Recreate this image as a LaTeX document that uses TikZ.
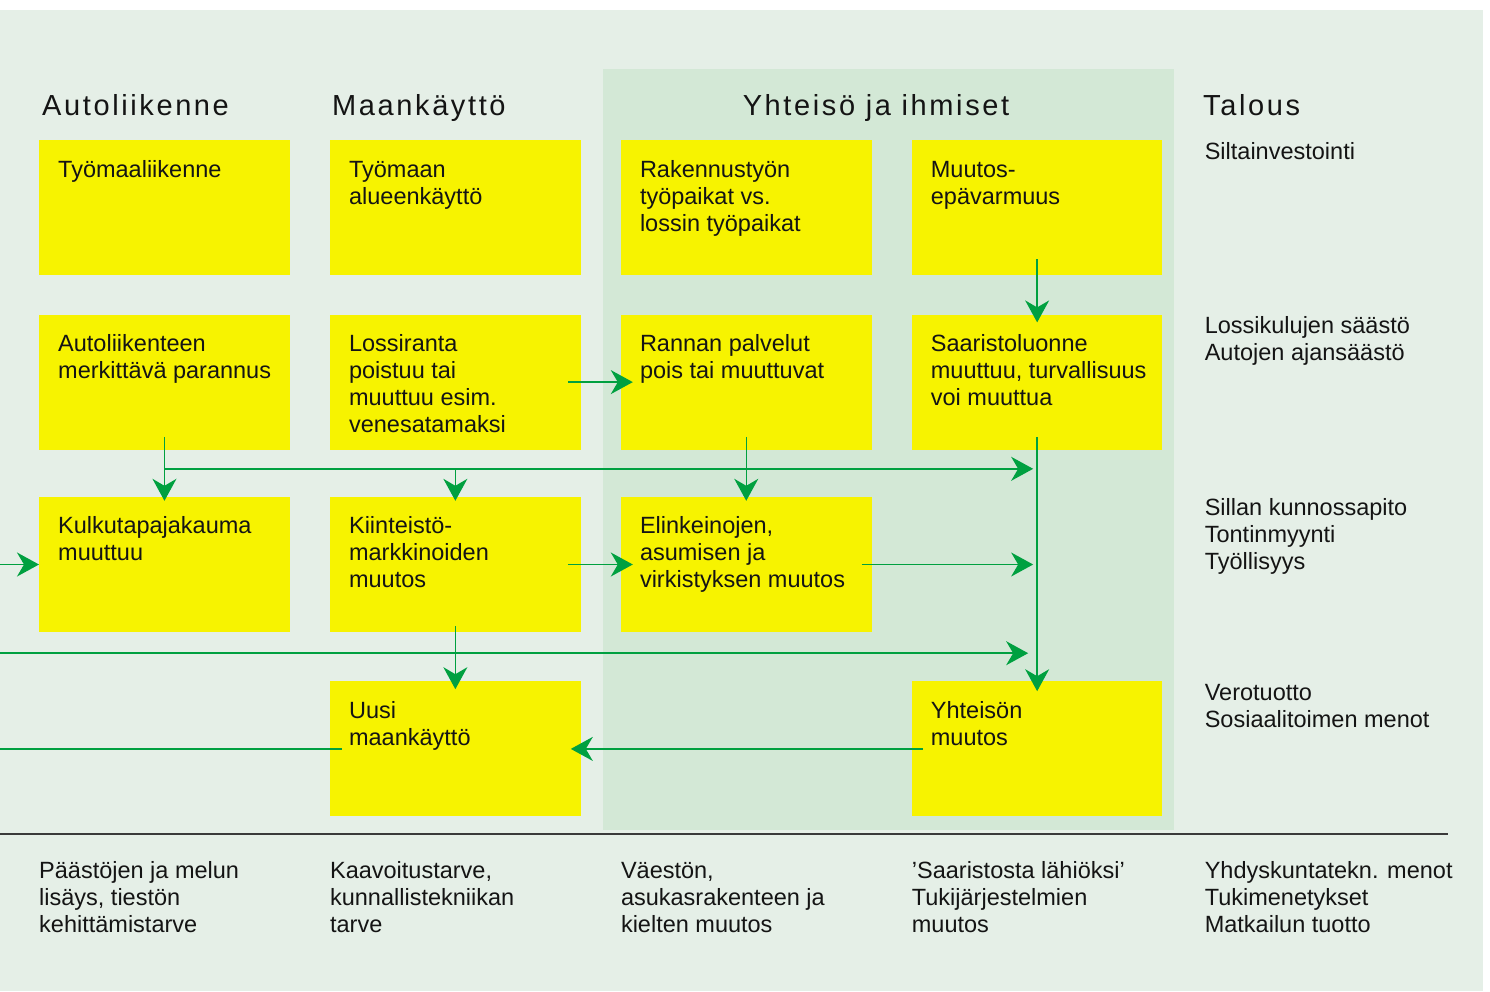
\documentclass[tikz,border=0pt]{standalone}
\usepackage{fontspec}
\setmainfont{Liberation Sans}
\newfontfamily\hdrfont[LetterSpace=9]{Liberation Sans}
\usetikzlibrary{positioning,arrows.meta,calc}
\definecolor{cBg}{HTML}{E5EFE7}
\definecolor{cBand}{HTML}{D3E8D6}
\definecolor{cBox}{HTML}{F7F300}
\definecolor{cArrow}{HTML}{00A040}
\definecolor{cRule}{HTML}{3A3A3A}
\tikzset{
  box/.style    ={fill=cBox, draw=none, minimum width=250.5pt, minimum height=135pt,
                  inner sep=0pt, anchor=north west},
  boxtxt/.style ={anchor=north west, inner sep=0pt, align=left,
                  font=\fontsize{23.5}{27}\selectfont, text=black!92},
  note/.style   ={boxtxt},
  hdr/.style    ={anchor=base west, inner sep=0pt, text=black!92,
                  font={\hdrfont\fontsize{29}{34}\selectfont}},
  flow/.style   ={-{Stealth[length=22pt,width=24pt,inset=7pt]}, line width=1.5pt, draw=cArrow},
  plain flow/.style={line width=1.5pt, draw=cArrow},
  rule/.style   ={line width=2pt, draw=cRule},
}

\begin{document}
\begin{tikzpicture}[x=1pt, y=-1pt]

  % ---- canvas ----
  \useasboundingbox (0,0) rectangle (1490,991);
  \fill[white] (0,0) rectangle (1490,991);
  \fill[cBg] (0,10) rectangle (1483,991);
  \fill[cBand] (603,69) rectangle (1174,830);

  % ---- column headings ----
  \node[hdr] (h-auto) at (42,115) {Autoliikenne};
  \node[hdr] (h-maa) at (332,115) {Maankäyttö};
  \node[hdr, anchor=base] (h-yht) at (876,115) {Yhteisö ja ihmiset};
  \node[hdr] (h-talous) at (1203,115) {Talous};

  % ---- row 1 ----
  \node[box] (tyomaaliik) at (39,140) {};
  \node[box, right=40pt of tyomaaliik] (alueenk) {};
  \node[box, right=40pt of alueenk] (tyopaikat) {};
  \node[box, right=40pt of tyopaikat] (epavarmuus) {};

  % ---- row 2 ----
  \node[box, below=39pt of tyomaaliik] (parannus) {};
  \node[box, below=39pt of alueenk] (lossiranta) {};
  \node[box, below=39pt of tyopaikat] (palvelut) {};
  \node[box, below=39pt of epavarmuus] (saaristo) {};

  % ---- row 3 ----
  \node[box, below=47pt of parannus] (kulkutapa) {};
  \node[box, below=47pt of lossiranta] (kiinteisto) {};
  \node[box, below=47pt of palvelut] (elinkeinot) {};

  % ---- row 4 ----
  \node[box, below=49pt of kiinteisto] (uusimaa) {};
  \node[box] (yhteison) at (epavarmuus.north west |- uusimaa.north west) {};

  % ---- box texts ----
  \node[boxtxt] (tyomaaliik-t) at ([shift={(19pt,-18pt)}]tyomaaliik.north west) {\strut Työmaaliikenne};
  \node[boxtxt] (alueenk-t) at ([shift={(19pt,-18pt)}]alueenk.north west) {\strut Työmaan\\alueenkäyttö};
  \node[boxtxt] (tyopaikat-t) at ([shift={(19pt,-18pt)}]tyopaikat.north west) {\strut Rakennustyön\\työpaikat vs.\\lossin työpaikat};
  \node[boxtxt] (epavarmuus-t) at ([shift={(19pt,-18pt)}]epavarmuus.north west) {\strut Muutos-\\epävarmuus};
  \node[boxtxt] (parannus-t) at ([shift={(19pt,-18pt)}]parannus.north west) {\strut Autoliikenteen\\merkittävä parannus};
  \node[boxtxt] (lossiranta-t) at ([shift={(19pt,-18pt)}]lossiranta.north west) {\strut Lossiranta\\poistuu tai\\muuttuu esim.\\venesatamaksi};
  \node[boxtxt] (palvelut-t) at ([shift={(19pt,-18pt)}]palvelut.north west) {\strut Rannan palvelut\\pois tai muuttuvat};
  \node[boxtxt] (saaristo-t) at ([shift={(19pt,-18pt)}]saaristo.north west) {\strut Saaristoluonne\\muuttuu, turvallisuus\\voi muuttua};
  \node[boxtxt] (kulkutapa-t) at ([shift={(19pt,-18pt)}]kulkutapa.north west) {\strut Kulkutapajakauma\\muuttuu};
  \node[boxtxt] (kiinteisto-t) at ([shift={(19pt,-18pt)}]kiinteisto.north west) {\strut Kiinteistö-\\markkinoiden\\muutos};
  \node[boxtxt] (elinkeinot-t) at ([shift={(19pt,-18pt)}]elinkeinot.north west) {\strut Elinkeinojen,\\asumisen ja\\virkistyksen muutos};
  \node[boxtxt] (uusimaa-t) at ([shift={(19pt,-18pt)}]uusimaa.north west) {\strut Uusi\\maankäyttö};
  \node[boxtxt] (yhteison-t) at ([shift={(19pt,-18pt)}]yhteison.north west) {\strut Yhteisön\\muutos};

  % ---- Talous column ----
  \node[note] (silta) at ([xshift=42pt]epavarmuus.north east) {\strut Siltainvestointi};
  \node[note] (lossikulut) at ([xshift=42pt]saaristo.north east) {\strut Lossikulujen säästö\\Autojen ajansäästö};
  \node[note] (kunnossapito) at ([xshift=42pt]saaristo.north east |- elinkeinot.north) {\strut Sillan kunnossapito\\Tontinmyynti\\Työllisyys};
  \node[note] (verotuotto) at ([xshift=42pt]yhteison.north east) {\strut Verotuotto\\Sosiaalitoimen menot};

  % ---- bottom rule + consequences ----
  \coordinate (rule-l) at (0,834);
  \coordinate (rule-r) at (1448,834);
  \draw[rule] (rule-l) -- (rule-r);
  \node[note] (n-auto) at (tyomaaliik.west |- 0,859) {\strut Päästöjen ja melun\\lisäys, tiestön\\kehittämistarve};
  \node[note] (n-maa) at (alueenk.west |- 0,859) {\strut Kaavoitustarve,\\kunnallistekniikan\\tarve};
  \node[note] (n-vaesto) at (tyopaikat.west |- 0,859) {\strut Väestön,\\asukasrakenteen ja\\kielten muutos};
  \node[note] (n-saaristo) at (epavarmuus.west |- 0,859) {\strut ’Saaristosta lähiöksi’\\Tukijärjestelmien\\muutos};
  \node[note] (n-talous) at (silta.west |- 0,859) {\strut Yhdyskuntatekn. menot\\Tukimenetykset\\Matkailun tuotto};

  % ---- edges ----
  \coordinate (split) at ([yshift=-19pt]parannus.south);
  \coordinate (cross) at ([yshift=-21pt]kiinteisto.south);

  % right-hand trunk
  \draw[flow] ([yshift=16pt]epavarmuus.south) -- ([yshift=-8pt]saaristo.north);
  \draw[flow] ([yshift=13pt]saaristo.south) -- ([yshift=-10pt]yhteison.north);

  % from Autoliikenteen parannus
  \draw[flow] ([yshift=13pt]parannus.south) -- ([yshift=-4pt]kulkutapa.north);
  \draw[flow, shorten >=4pt] (split) -- (split -| saaristo.south);
  \draw[flow] (split -| kiinteisto.north) -- ([yshift=-4pt]kiinteisto.north);
  \draw[flow] ([yshift=13pt]palvelut.south) -- ([yshift=-4pt]elinkeinot.north);

  \draw[flow] ([xshift=-13pt]lossiranta.east) -- ([xshift=12pt]palvelut.west);
  \draw[flow] (kulkutapa.west -| 0,0) -- (kulkutapa.west);
  \draw[flow] ([xshift=-13pt]kiinteisto.east) -- ([xshift=12pt]elinkeinot.west);
  \draw[flow, shorten >=4pt] ([xshift=-10pt]elinkeinot.east) -- (elinkeinot.east -| saaristo.south);
  \draw[flow, shorten >=9pt] (cross -| 0,0) -- (cross -| saaristo.south);
  \draw[flow] ([yshift=6pt]kiinteisto.south) -- ([yshift=-8pt]uusimaa.north);

  % back from Yhteisön muutos
  \draw[flow] ([xshift=11pt]yhteison.west) -- ([xshift=-10pt]uusimaa.east);
  \draw[plain flow] ([xshift=12pt]uusimaa.west) -- (uusimaa.west -| 0,0);

\end{tikzpicture}
\end{document}
